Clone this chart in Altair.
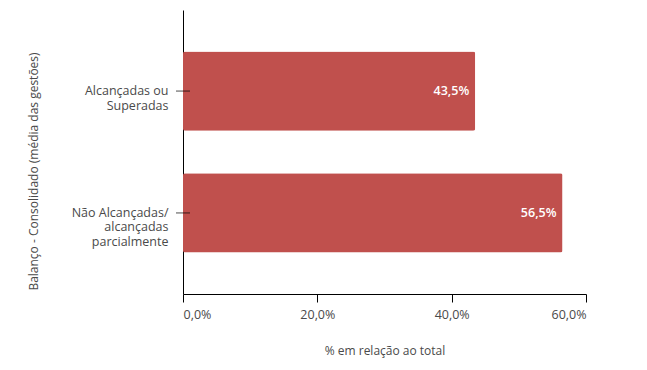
import altair as alt
import pandas as pd

categories = ["Alcançadas ou|Superadas", "Não Alcançadas/|alcançadas|parcialmente"]
values = [43.5, 56.5]
x_ticks = [0, 20, 40, 60]

df = pd.DataFrame({"cat": categories, "val": values})
df["lbl"] = [f"{v:.1f}%".replace(".", ",") for v in values]

font = "Open Sans"
txt = "#4a4a4a"

y_enc = alt.Y(
    "cat:N",
    sort=categories,
    scale=alt.Scale(paddingInner=0.35, paddingOuter=0.34),
    axis=alt.Axis(
        title="Balanço - Consolidado (média das gestões)",
        labelExpr="split(datum.label, '|')",
        labelLineHeight=14.5,
        labelFontSize=12.5,
        labelColor=txt,
        labelPadding=15,
        labelAlign="right",
        ticks=False,
        domainColor="black",
        titleFontSize=12,
        titleFontWeight="normal",
        titleColor=txt,
        titleX=-143,
        titleY=161,
    ),
)

x_enc = alt.X(
    "val:Q",
    scale=alt.Scale(domain=[0, 60]),
    axis=alt.Axis(
        title="% em relação ao total",
        values=x_ticks,
        labelExpr="replace(format(datum.value, '.1f'), '.', ',') + '%'",
        labelFontSize=12.5,
        labelColor=txt,
        labelPadding=6,
        tickSize=8,
        tickColor="black",
        domainColor="black",
        grid=False,
        titleFontSize=12,
        titleFontWeight="normal",
        titleColor=txt,
        titlePadding=25,
    ),
)

bars = alt.Chart(df).mark_bar(color="#C0504D", cornerRadius=2).encode(x=x_enc, y=y_enc)

labels = alt.Chart(df).mark_text(
    align="right", baseline="middle", dx=-6, color="white", fontSize=12.5, fontWeight=600, font=font
).encode(x="val:Q", y=alt.Y("cat:N", sort=categories), text="lbl:N")

yticks = alt.Chart(df).mark_tick(orient="horizontal", color="black", size=14, thickness=1).encode(
    x=alt.datum(0), y=alt.Y("cat:N", sort=categories)
)

chart = (
    alt.layer(bars, labels, yticks)
    .properties(
        width=403,
        height=284,
        autosize=alt.AutoSizeParams(type="none"),
        padding={"left": 175, "top": 2, "right": 50, "bottom": 68},
    )
    .configure(font=font)
    .configure_view(stroke=None)
    .configure_axis(labelFont=font, titleFont=font, domainWidth=1, tickWidth=1)
)

chart.save("out.html", embed_options={"renderer": "svg", "actions": False})
